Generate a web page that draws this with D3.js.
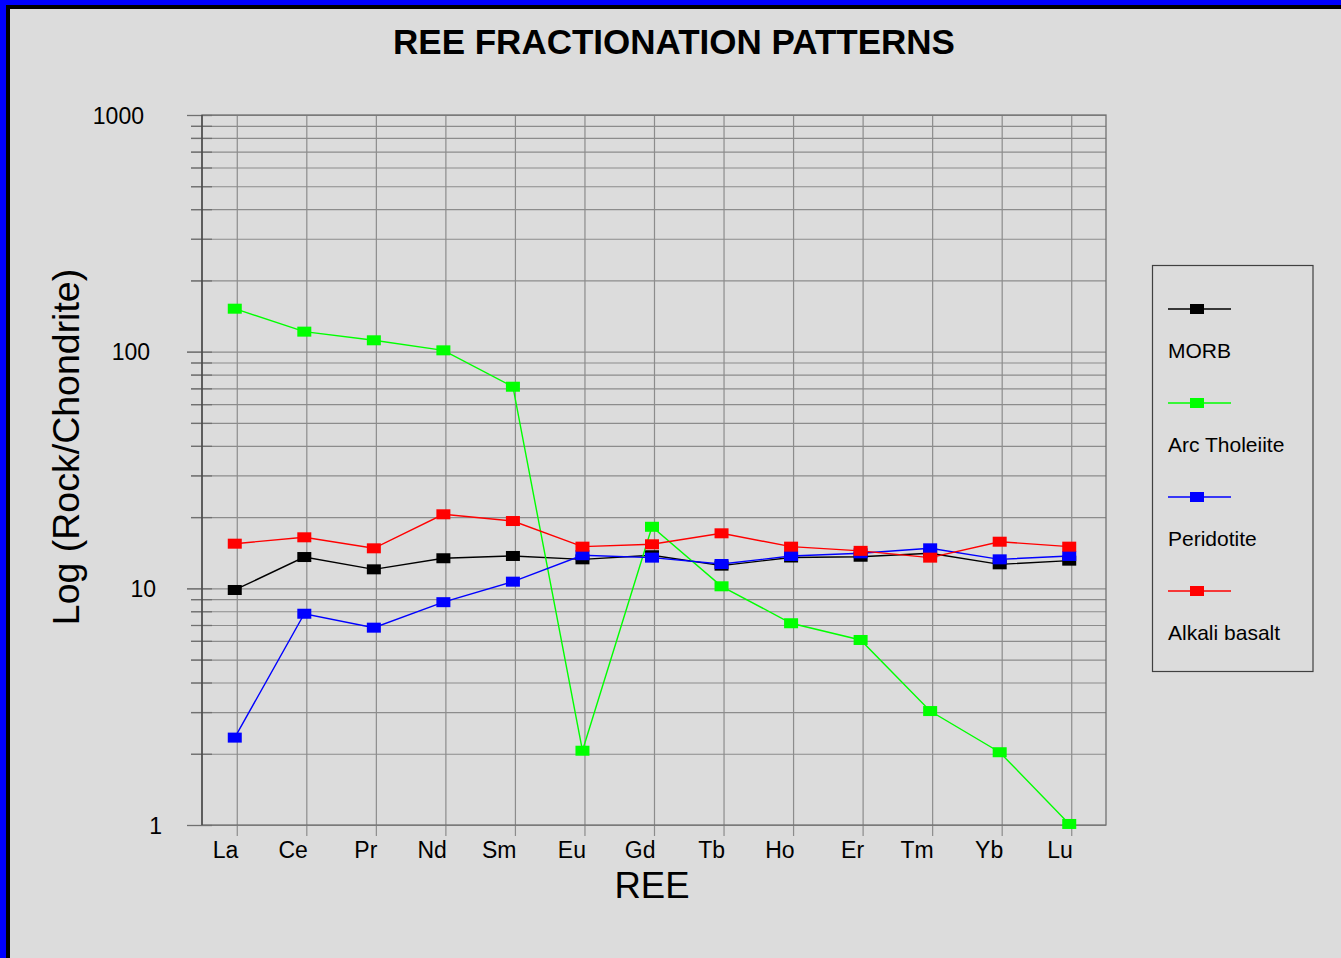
<!DOCTYPE html>
<html>
<head>
<meta charset="utf-8">
<script src="https://cdn.jsdelivr.net/npm/d3@7"></script>
<style>
  html, body { margin: 0; padding: 0; background: #dcdcdc; }
  svg { display: block; font-family: "Liberation Sans", Arial, sans-serif; }
</style>
</head>
<body>
<script>
var w = 1341,
    h = 958;

// REE categories and chondrite-normalised values
var categories = ["La", "Ce", "Pr", "Nd", "Sm", "Eu", "Gd", "Tb", "Ho", "Er", "Tm", "Yb", "Lu"];
var morb = [9.84, 13.56, 12.03, 13.4, 13.7, 13.26, 13.8, 12.47, 13.5, 13.6, 14.06, 12.63, 13.09];
var arcTholeiite = [151.9, 121.5, 111.7, 101.3, 71.1, 2.06, 18.2, 10.2, 7.12, 6.05, 3.03, 2.03, 1.01];
var peridotite = [2.34, 7.81, 6.82, 8.74, 10.67, 13.8, 13.48, 12.67, 13.7, 14.06, 14.76, 13.26, 13.7];
var alkaliBasalt = [15.44, 16.43, 14.76, 20.55, 19.25, 15.0, 15.35, 17.08, 15.0, 14.4, 13.48, 15.74, 15.0];
var seriesNames = ["MORB", "Arc Tholeiite", "Peridotite", "Alkali basalt"];
var seriesColors = ["#000000", "#00ff00", "#0000ff", "#ff0000"];
var yTickLabels = [1, 10, 100, 1000];

var series = [morb, arcTholeiite, peridotite, alkaliBasalt].map(function (vals, i) {
    return { name: seriesNames[i], color: seriesColors[i], values: vals };
});

// plot box (note: "top" is reserved on window, so prefix these)
var pLeft = 202, pRight = 1106, pTop = 115, pBottom = 825;

var svg = d3.select("body")
    .append("svg")
    .attr("width", w)
    .attr("height", h);

// background + window border
svg.append("rect").attr("width", w).attr("height", h).attr("fill", "#dcdcdc");
svg.append("rect").attr("x", 0).attr("y", 0).attr("width", w).attr("height", 5).attr("fill", "#0000ff");
svg.append("rect").attr("x", 0).attr("y", 0).attr("width", 6).attr("height", h).attr("fill", "#0000ff");
svg.append("rect").attr("x", 6).attr("y", 5).attr("width", w).attr("height", 4).attr("fill", "#000");
svg.append("rect").attr("x", 6).attr("y", 5).attr("width", 4).attr("height", h).attr("fill", "#000");

var x = d3.scalePoint()
    .domain(categories)
    .range([pLeft, pRight])
    .padding(0.5);

var y = d3.scaleLog()
    .domain([1, 1000])
    .range([pBottom, pTop]);

function isMajor(d) {
    return yTickLabels.indexOf(d) >= 0;
}

// horizontal grid lines
var gridY = svg.append("g")
    .attr("transform", "translate(" + pRight + ",0)")
    .call(d3.axisLeft(y).tickValues(y.ticks()).tickFormat("").tickSize(pRight - 191));
gridY.select(".domain").remove();
gridY.selectAll(".tick line")
    .attr("stroke", "#8c8c8c")
    .attr("stroke-width", 1.2)
    .attr("x2", function (d) { return isMajor(d) ? -(pRight - 187) : -(pRight - 191); });

// vertical grid lines (extend a bit under the axis)
var gridX = svg.append("g")
    .attr("transform", "translate(0," + (pBottom + 11) + ")")
    .call(d3.axisBottom(x).tickSize(-(pBottom + 11 - pTop)));
gridX.select(".domain").remove();
gridX.selectAll(".tick line")
    .attr("stroke", "#8c8c8c")
    .attr("stroke-width", 1.2);
gridX.selectAll(".tick text")
    .attr("y", 22)
    .attr("dy", 0)
    .attr("x", 1)
    .attr("text-anchor", "end")
    .attr("fill", "#000")
    .style("font-size", "23px")
    .style("font-family", "'Liberation Sans', Arial, sans-serif");

// small darker tick marks on the left axis
var tickY = svg.append("g")
    .attr("transform", "translate(212,0)")
    .call(d3.axisLeft(y).tickValues(y.ticks()).tickFormat("").tickSize(21));
tickY.select(".domain").remove();
tickY.selectAll(".tick line")
    .attr("stroke", "#707070")
    .attr("stroke-width", 1.3)
    .attr("x2", function (d) { return isMajor(d) ? -25 : -21; });

// y tick labels
var labY = svg.append("g")
    .attr("transform", "translate(144,0)")
    .call(d3.axisLeft(y).tickValues(yTickLabels).tickFormat(d3.format("d")).tickSize(0).tickPadding(0));
labY.select(".domain").remove();
labY.selectAll(".tick text")
    .attr("x", function (d) { return 6 * (4 - String(d).length); })
    .attr("dy", "0.36em")
    .attr("text-anchor", "end")
    .attr("fill", "#000")
    .style("font-size", "23px")
    .style("font-family", "'Liberation Sans', Arial, sans-serif");

// plot frame
svg.append("rect")
    .attr("x", pLeft).attr("y", pTop)
    .attr("width", pRight - pLeft).attr("height", pBottom - pTop)
    .attr("fill", "none")
    .attr("stroke", "#707070")
    .attr("stroke-width", 1.3);
svg.append("line")
    .attr("x1", pLeft).attr("x2", pLeft)
    .attr("y1", pTop).attr("y2", pBottom)
    .attr("stroke", "#404040")
    .attr("stroke-width", 1.3);

// series
var line = d3.line()
    .x(function (d, i) { return x(categories[i]) - 2; })
    .y(function (d) { return y(d); });

var groups = svg.selectAll(".series")
    .data(series)
    .enter()
    .append("g")
    .attr("class", "series");

groups.append("path")
    .attr("d", function (d) { return line(d.values); })
    .attr("fill", "none")
    .attr("stroke", function (d) { return d.color; })
    .attr("stroke-width", 1.4);

groups.selectAll("rect")
    .data(function (d) { return d.values.map(function (v, i) { return { v: v, i: i, color: d.color }; }); })
    .enter()
    .append("rect")
    .attr("x", function (d) { return x(categories[d.i]) - 2 - 7; })
    .attr("y", function (d) { return y(d.v) - 5; })
    .attr("width", 14)
    .attr("height", 10)
    .attr("fill", function (d) { return d.color; });

// titles
svg.append("text")
    .attr("x", 674).attr("y", 54)
    .attr("text-anchor", "middle")
    .style("font-size", "35px")
    .style("font-weight", "bold")
    .text("REE FRACTIONATION PATTERNS");

svg.append("text")
    .attr("x", 652).attr("y", 898)
    .attr("text-anchor", "middle")
    .style("font-size", "36.5px")
    .text("REE");

svg.append("text")
    .attr("transform", "translate(79,447) rotate(-90)")
    .attr("text-anchor", "middle")
    .style("font-size", "37.5px")
    .text("Log (Rock/Chondrite)");

// legend
var legend = svg.append("g")
    .attr("transform", "translate(1152.5,265.5)");
legend.append("rect")
    .attr("width", 160.5)
    .attr("height", 406)
    .attr("fill", "none")
    .attr("stroke", "#404040")
    .attr("stroke-width", 1.2);

var items = legend.selectAll(".item")
    .data(series)
    .enter()
    .append("g")
    .attr("class", "item")
    .attr("transform", function (d, i) { return "translate(0," + (43.5 + i * 94) + ")"; });

items.append("line")
    .attr("x1", 15.5).attr("x2", 78.5)
    .attr("stroke", function (d) { return d.color; })
    .attr("stroke-width", 1.4);
items.append("rect")
    .attr("x", 37.5).attr("y", -5)
    .attr("width", 14).attr("height", 10)
    .attr("fill", function (d) { return d.color; });
items.append("text")
    .attr("x", 15.5).attr("y", 48.5)
    .style("font-size", "21px")
    .text(function (d) { return d.name; });
</script>
</body>
</html>
